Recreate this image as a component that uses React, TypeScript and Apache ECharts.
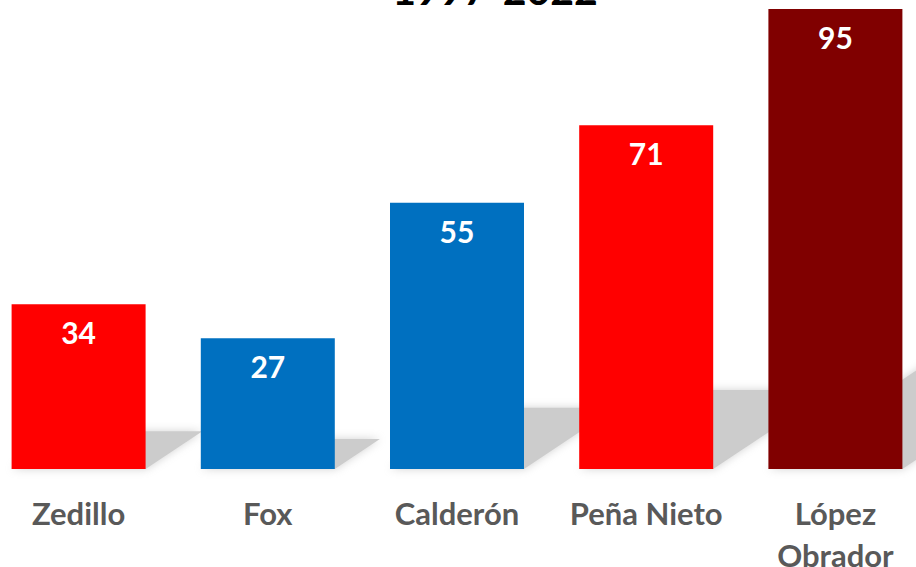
import React, { useEffect, useRef } from "react";
import * as echarts from "echarts";

const categories = ["Zedillo", "Fox", "Calderón", "Peña Nieto", "López\nObrador"];
const values = [34, 27, 55, 71, 95];
const colors = ["#FF0000", "#0070C0", "#0070C0", "#FF0000", "#800000"];
const titleText = "1997-2022";

const BAR_W = 134;

export default function App() {
  const ref = useRef<HTMLDivElement>(null);
  useEffect(() => {
    if (!ref.current) return;
    const chart = echarts.init(ref.current, undefined, { renderer: "svg" });
    chart.setOption({
      animation: false,
      backgroundColor: "#ffffff",
      grid: {
        left: -16,
        right: -14,
        top: 9,
        bottom: 98,
        containLabel: false,
        outerBoundsMode: "none",
      },
      graphic: [
        {
          type: "text",
          x: 495,
          y: 10,
          style: {
            text: titleText,
            textAlign: "center",
            textVerticalAlign: "bottom",
            fontFamily: "Lato",
            fontWeight: "bold",
            fontSize: 41,
            fill: "#000000",
          },
          z: 100,
        },
      ],
      xAxis: {
        type: "category",
        data: categories,
        axisLine: { show: false },
        axisTick: { show: false },
        axisLabel: {
          color: "#595959",
          fontFamily: "Lato",
          fontWeight: "bold",
          fontSize: 31,
          lineHeight: 42,
          margin: 23,
          interval: 0,
        },
      },
      yAxis: {
        type: "value",
        min: 0,
        max: 95,
        show: false,
        splitLine: { show: false },
      },
      series: [
        {
          type: "custom",
          z: 1,
          silent: true,
          data: values.map((v, i) => [i, v]),
          renderItem: (params: any, api: any) => {
            const idx = api.value(0);
            const val = api.value(1);
            const base = api.coord([idx, 0]);
            const top = api.coord([idx, val]);
            const h = base[1] - top[1];
            const v = h * 0.23;
            const s = v * 1.5;
            const x0 = base[0] - BAR_W / 2;
            const x1 = base[0] + BAR_W / 2;
            const yb = base[1];
            return {
              type: "polygon",
              shape: {
                points: [
                  [x0, yb],
                  [x1, yb],
                  [x1 + s, yb - v],
                  [x0 + s, yb - v],
                ],
              },
              style: {
                fill: "#cccccc",
                shadowBlur: 8,
                shadowColor: "rgba(204,204,204,0.9)",
              },
            };
          },
        },
        {
          type: "bar",
          z: 2,
          barWidth: BAR_W,
          data: values.map((v, i) => ({ value: v, itemStyle: { color: colors[i] } })),
          label: {
            show: true,
            position: "insideTop",
            distance: 13,
            color: "#ffffff",
            fontFamily: "Lato",
            fontWeight: "bold",
            fontSize: 30,
          },
        },
      ],
    });
    return () => chart.dispose();
  }, []);
  return (
    <div
      ref={ref}
      style={{ position: "fixed", left: 0, top: 0, width: 916, height: 567 }}
    />
  );
}
